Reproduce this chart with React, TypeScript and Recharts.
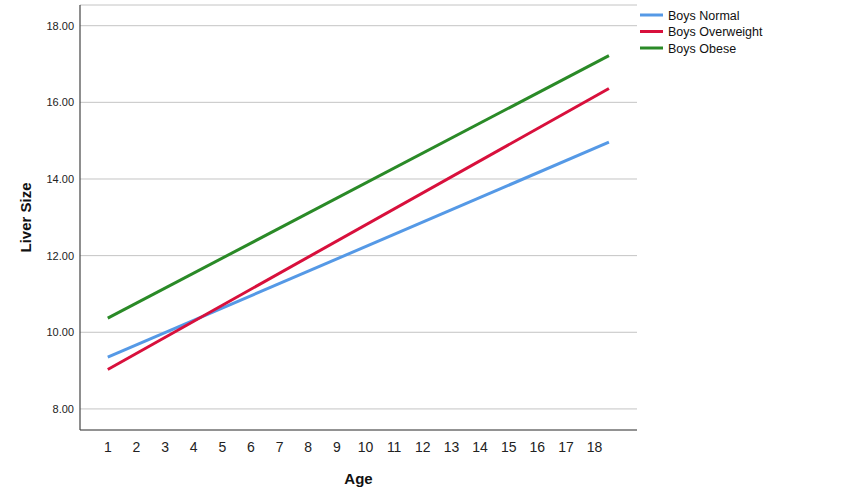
import React from "react";
import { LineChart, Line, XAxis, YAxis, CartesianGrid } from "recharts";

// fitted lines, read at both ends of the age range
const ages = [1, 18.5];
const boysNormal = [9.35, 14.96];
const boysOverweight = [9.03, 16.36];
const boysObese = [10.37, 17.22];

const ageTicks = [1, 2, 3, 4, 5, 6, 7, 8, 9, 10, 11, 12, 13, 14, 15, 16, 17, 18];
const sizeTicks = [8, 10, 12, 14, 16, 18];

const seriesList = [
  { key: "normal", name: "Boys Normal", color: "#5599e6" },
  { key: "overweight", name: "Boys Overweight", color: "#d8103c" },
  { key: "obese", name: "Boys Obese", color: "#2a8a27" },
];

const FONT = '"Liberation Sans", Arial, sans-serif';

const data = ages.map((age, i) => ({
  age,
  normal: boysNormal[i],
  overweight: boysOverweight[i],
  obese: boysObese[i],
}));

const LegendBox = () => (
  <svg
    width={180}
    height={60}
    style={{ position: "absolute", left: 640, top: 8, fontFamily: FONT }}
  >
    {seriesList.map((s, i) => (
      <g key={s.key} transform={`translate(0, ${i * 16.5})`}>
        <line x1={0} x2={23} y1={7} y2={7} stroke={s.color} strokeWidth={3} />
        <text x={28} y={11.5} fontSize={12.5} fill="#111">
          {s.name}
        </text>
      </g>
    ))}
  </svg>
);

const App = () => {
  return (
    <div style={{ position: "absolute", left: 0, top: 0, width: 851, height: 501 }}>
      <LineChart
        width={851}
        height={501}
        data={data}
        margin={{ top: 5, right: 214, left: 79, bottom: 70 }}
      >
        <CartesianGrid vertical={false} stroke="#c4c4c4" strokeWidth={1} />
        <XAxis
          dataKey="age"
          type="number"
          domain={[0.03, 19.48]}
          ticks={ageTicks}
          interval={0}
          height={1}
          tickLine={false}
          tickSize={0}
          tickMargin={12}
          axisLine={{ stroke: "#444", strokeWidth: 1.2 }}
          tick={{ fontSize: 14, fill: "#222", fontFamily: FONT }}
          label={{
            content: ({ viewBox }: any) => (
              <text
                x={viewBox.x + viewBox.width / 2}
                y={viewBox.y + 54}
                textAnchor="middle"
                fontSize={15}
                fontWeight="bold"
                fill="#111"
                fontFamily={FONT}
              >
                Age
              </text>
            ),
          }}
        />
        <YAxis
          type="number"
          domain={[7.45, 18.54]}
          ticks={sizeTicks}
          width={1}
          tickLine={false}
          tickSize={0}
          tickMargin={6}
          allowDataOverflow
          axisLine={{ stroke: "#444", strokeWidth: 1.2 }}
          tick={{ fontSize: 11, fill: "#222", fontFamily: FONT }}
          tickFormatter={(v: number) => v.toFixed(2)}
          label={{
            content: ({ viewBox }: any) => {
              const cx = viewBox.x + viewBox.width - 55;
              const cy = viewBox.y + viewBox.height / 2;
              return (
                <text
                  x={cx}
                  y={cy}
                  transform={`rotate(-90, ${cx}, ${cy})`}
                  textAnchor="middle"
                  dominantBaseline="central"
                  fontSize={15}
                  fontWeight="bold"
                  fill="#111"
                  fontFamily={FONT}
                >
                  Liver Size
                </text>
              );
            },
          }}
        />
        {seriesList.map((s) => (
          <Line
            key={s.key}
            type="linear"
            dataKey={s.key}
            name={s.name}
            stroke={s.color}
            strokeWidth={3}
            dot={false}
            activeDot={false}
            isAnimationActive={false}
          />
        ))}
      </LineChart>
      <LegendBox />
    </div>
  );
};

export default App;
